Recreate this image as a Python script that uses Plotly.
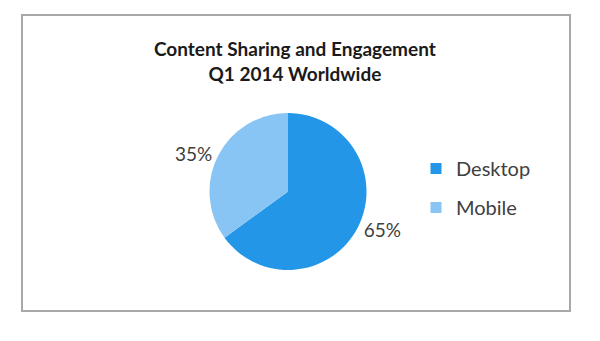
import plotly.graph_objects as go

title_lines = ["Content Sharing and Engagement", "Q1 2014 Worldwide"]
labels = ["Desktop", "Mobile"]
values = [65, 35]
colors = ["#2396E8", "#88C5F4"]

W, H = 600, 341
cx, cy, r = 288, 191.5, 78.5

fig = go.Figure()
fig.add_trace(go.Pie(
    labels=labels,
    values=values,
    sort=False,
    direction="clockwise",
    rotation=0,
    marker=dict(colors=colors, line=dict(width=0)),
    textinfo="percent",
    texttemplate="%{percent:.0%}",
    textposition="outside",
    outsidetextfont=dict(family="Lato", size=19, color="#404040"),
    domain=dict(x=[(cx - r) / W, (cx + r) / W], y=[1 - (cy + r) / H, 1 - (cy - r) / H]),
    hoverinfo="label+percent",
    showlegend=False,
))

# legend entries (squares) matching the slice colours
for lab, col in zip(labels, colors):
    fig.add_trace(go.Scatter(
        x=[None], y=[None], mode="markers", name=lab, legendgroup=lab,
        marker=dict(symbol="square", size=11, color=col),
        showlegend=True, hoverinfo="skip",
    ))

fig.add_annotation(
    text="<b>" + "<br>".join(title_lines) + "</b>",
    xref="paper", yref="paper", x=295 / W, y=1 - 61 / H,
    xanchor="center", yanchor="middle", showarrow=False,
    font=dict(family="Lato", size=19, color="#1a1a1a"),
)

fig.add_shape(
    type="rect", xref="paper", yref="paper",
    x0=22 / W, x1=570 / W, y0=1 - 311 / H, y1=1 - 15 / H,
    line=dict(color="#A8A8A8", width=2), fillcolor="rgba(0,0,0,0)",
)

fig.update_layout(
    width=W, height=H,
    margin=dict(l=0, r=0, t=0, b=0),
    paper_bgcolor="white",
    plot_bgcolor="white",
    xaxis=dict(visible=False),
    yaxis=dict(visible=False),
    showlegend=True,
    legend=dict(
        x=416 / W, y=1 - 188 / H, xanchor="left", yanchor="middle",
        font=dict(family="Lato", size=20, color="#404040"),
        bgcolor="rgba(0,0,0,0)",
        tracegroupgap=10,
        itemwidth=30,
    ),
)

fig.write_html("out.html")
